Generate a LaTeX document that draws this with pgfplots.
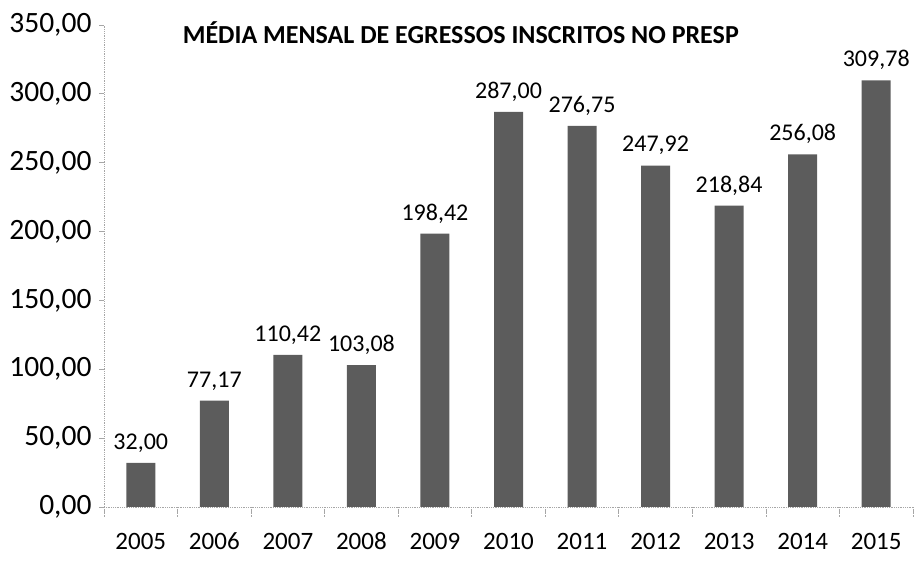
\documentclass[border=0pt]{standalone}
\usepackage{fontspec}
\setmainfont{Carlito}[Numbers=Lining]
\usepackage{pgfplots}
\pgfplotsset{compat=1.18}
\begin{document}
\begin{tikzpicture}
\begin{axis}[
  scale only axis,
  width=809pt, height=482pt,
  xmin=-0.5, xmax=10.5,
  ymin=0, ymax=350,
  ytick={0,50,...,350},
  yticklabels={0{,}00,50{,}00,100{,}00,150{,}00,200{,}00,250{,}00,300{,}00,350{,}00},
  xtick={0,1,...,10},
  minor xtick={-0.5,0.5,...,10.5},
  xticklabels={2005,2006,2007,2008,2009,2010,2011,2012,2013,2014,2015},
  axis lines*=left,
  axis line style={gray!70, densely dotted, line width=0.8pt},
  tick align=outside,
  major tick length=5pt,
  minor tick length=9pt,
  major x tick style={draw=none},
  minor x tick style={gray!70, densely dotted, line width=0.8pt},
  ytick style={gray!70, line width=0.8pt},
  every y tick label/.style={font=\fontsize{29.5}{33}\selectfont, anchor=east, xshift=-4pt},
  every x tick label/.style={font=\fontsize{25}{30}\selectfont, anchor=base, yshift=-38pt},
  ybar, bar width=29pt,
  nodes near coords={\pgfmathprintnumber[fixed, fixed zerofill, precision=2, use comma, 1000 sep={}, assume math mode=true]{\pgfplotspointmeta}},
  every node near coord/.append style={font=\fontsize{24}{28}\selectfont, black, yshift=7pt},
  clip=false,
]
\addplot[fill=black!64, draw=none] coordinates {
(0,32.00) (1,77.17) (2,110.42) (3,103.08) (4,198.42) (5,287.00)
(6,276.75) (7,247.92) (8,218.84) (9,256.08) (10,309.78)
};
\node[font=\bfseries\fontsize{26}{30}\selectfont, anchor=center] at (rel axis cs:0.441,0.985) {MÉDIA MENSAL DE EGRESSOS INSCRITOS NO PRESP};
\end{axis}
\pgfresetboundingbox
\path[use as bounding box] ([shift={(-104pt,-65pt)}]current axis.south west) rectangle ([shift={(5pt,25pt)}]current axis.north east);
\end{tikzpicture}
\end{document}
